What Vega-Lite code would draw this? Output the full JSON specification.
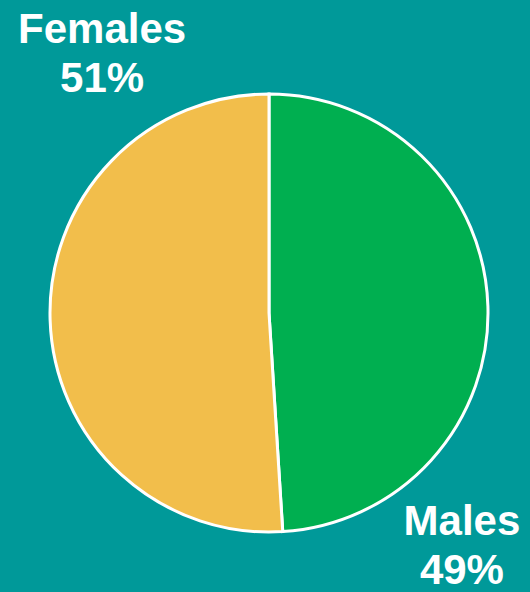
{
  "$schema": "https://vega.github.io/schema/vega-lite/v6.json",
  "autosize": "none",
  "width": 522,
  "height": 558,
  "padding": {"left": 8, "top": 34, "right": 0, "bottom": 0},
  "background": "#009999",
  "config": {"view": {"stroke": null}},
  "data": {
    "values": [
      {"gender": "Males", "pct": 49, "label": "Males\n49%"},
      {"gender": "Females", "pct": 51, "label": "Females\n51%"}
    ]
  },
  "encoding": {
    "theta": {"field": "pct", "type": "quantitative", "stack": true},
    "order": {"field": "pct", "type": "quantitative", "sort": "ascending"}
  },
  "layer": [
    {
      "mark": {"type": "arc", "outerRadius": 219, "stroke": "white", "strokeWidth": 3},
      "encoding": {
        "color": {
          "field": "gender",
          "type": "nominal",
          "scale": {"domain": ["Males", "Females"], "range": ["#00AF50", "#F2BE4B"]},
          "legend": null
        }
      }
    },
    {
      "mark": {
        "type": "text",
        "radius": 180,
        "dx": 13,
        "dy": {"expr": "datum.gender === 'Males' ? 228 : -276"},
        "align": "center",
        "baseline": "alphabetic",
        "lineBreak": "\n",
        "lineHeight": 49,
        "font": "Liberation Sans",
        "fontSize": 42,
        "fontWeight": "bold",
        "color": "white"
      },
      "encoding": {
        "text": {"field": "label", "type": "nominal"}
      }
    }
  ]
}
